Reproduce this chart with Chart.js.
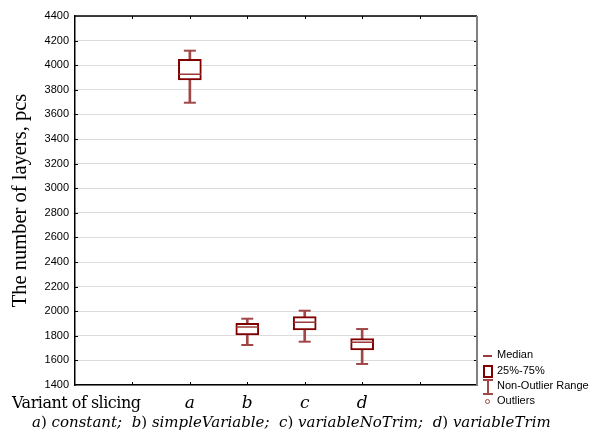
<!DOCTYPE html>
<html>
<head>
<meta charset="utf-8">
<script src="https://cdn.jsdelivr.net/npm/chart.js@4/dist/chart.umd.min.js"></script>
<style>
  html, body { margin: 0; padding: 0; background: #fff; }
  #wrap { position: relative; width: 592px; height: 435px; overflow: hidden; }
  #chart { position: absolute; left: 0; top: 0; }
  .txt { position: absolute; white-space: nowrap; color: #000; line-height: 1; }
  .serif { font-family: "DejaVu Serif", "Liberation Serif", serif; }
  .legend { position: absolute; left: 483px; font: 11px "Liberation Sans", Arial, sans-serif; }
  .legend div { position: absolute; white-space: nowrap; left: 14px; }
  .icon { position: absolute; }
</style>
</head>
<body>
<div id="wrap">
  <canvas id="chart" width="592" height="435"></canvas>
  <div class="txt serif" style="left:12px; top:395px; font-size:16px; letter-spacing:-0.5px;">Variant of slicing</div>
  <div class="txt serif" style="left:32px; top:415px; font-size:15px; letter-spacing:0px;"><i>a</i>) <i>constant;</i>&nbsp; <i>b</i>) <i>simpleVariable;</i>&nbsp; <i>c</i>) <i>variableNoTrim;</i>&nbsp; <i>d</i>) <i>variableTrim</i></div>
  <div class="legend" style="top:348px;">
    <span class="icon" style="left:0; top:7px; width:9px; height:1.5px; background:#9a3a3a;"></span>
    <div style="top:0;">Median</div>
    <span class="icon" style="left:0; top:17px; width:6px; height:9px; border:2px solid #800000;"></span>
    <div style="top:16px;">25%-75%</div>
    <span class="icon" style="left:0; top:31px; width:10px; height:1.5px; background:#a04848;"></span>
    <span class="icon" style="left:4px; top:31px; width:1.5px; height:15px; background:#a04848;"></span>
    <span class="icon" style="left:0; top:45px; width:10px; height:1.5px; background:#a04848;"></span>
    <div style="top:31px;">Non-Outlier Range</div>
    <span class="icon" style="left:2px; top:51px; width:3px; height:3px; border:1px solid #a04848; border-radius:50%;"></span>
    <div style="top:46px;">Outliers</div>
  </div>
</div>
<script>
// ---- data ----
const categories = ['a', 'b', 'c', 'd'];
const whiskerLow = [3695, 1725, 1752, 1571];
const q1 = [3880, 1807, 1847, 1685];
const median = [3926, 1872, 1910, 1747];
const q3 = [4048, 1902, 1956, 1777];
const whiskerHigh = [4118, 1939, 2004, 1855];
const yMin = 1400, yMax = 4400, yStep = 200;

// two empty slots each side of the categories
const axisLabels = ['', '', ...categories, '', ''];
const pad = arr => [null, null, ...arr, null, null];

const boxColor = '#800000';
const whiskerColor = '#a04848';

// frame: top/right borders and the small inward tick marks
const framePlugin = {
  id: 'frame',
  afterDraw(chart) {
    const { ctx, chartArea: a, scales } = chart;
    ctx.save();
    ctx.lineWidth = 1;
    ctx.strokeStyle = '#000';
    for (let i = 1; i < axisLabels.length - 1; i++) {
      const x = Math.round(scales.x.getPixelForValue(i)) + 0.5;
      ctx.beginPath();
      ctx.moveTo(x, a.bottom); ctx.lineTo(x, a.bottom - 3);
      ctx.moveTo(x, a.top); ctx.lineTo(x, a.top + 3);
      ctx.stroke();
    }
    for (let v = yMin + yStep; v < yMax; v += yStep) {
      const y = Math.round(scales.y.getPixelForValue(v)) + 0.5;
      ctx.beginPath();
      ctx.moveTo(a.left, y); ctx.lineTo(a.left + 3, y);
      ctx.moveTo(a.right, y); ctx.lineTo(a.right - 3, y);
      ctx.stroke();
    }
    ctx.lineWidth = 1.5;
    ctx.beginPath();
    ctx.moveTo(a.left, a.top); ctx.lineTo(a.right, a.top);
    ctx.stroke();
    ctx.strokeStyle = '#808080';
    ctx.lineWidth = 2;
    ctx.beginPath();
    ctx.moveTo(a.right, a.top); ctx.lineTo(a.right, a.bottom);
    ctx.stroke();
    ctx.restore();
  }
};

new Chart(document.getElementById('chart'), {
  type: 'bar',
  data: {
    labels: axisLabels,
    datasets: [
      {
        type: 'line', data: pad(median), showLine: false,
        pointStyle: 'line', pointRadius: 11, borderColor: '#9a3a3a', borderWidth: 1.5,
        order: 0
      },
      {
        data: pad(q1.map((v, i) => [v, q3[i]])),
        backgroundColor: '#fff', borderColor: boxColor, borderWidth: 2,
        borderSkipped: false, barThickness: 23, grouped: false, order: 1
      },
      {
        data: pad(whiskerLow.map((v, i) => [v, whiskerHigh[i]])),
        backgroundColor: whiskerColor, borderWidth: 0,
        barThickness: 2, grouped: false, order: 2
      },
      {
        type: 'line', data: pad(whiskerLow), showLine: false,
        pointStyle: 'line', pointRadius: 6, borderColor: whiskerColor, borderWidth: 2,
        order: 2
      },
      {
        type: 'line', data: pad(whiskerHigh), showLine: false,
        pointStyle: 'line', pointRadius: 6, borderColor: whiskerColor, borderWidth: 2,
        order: 2
      }
    ]
  },
  options: {
    responsive: false,
    animation: false,
    devicePixelRatio: 1,
    layout: { padding: { top: 16, right: 115, left: 0, bottom: 0 } },
    plugins: { legend: { display: false }, tooltip: { enabled: false } },
    scales: {
      x: {
        offset: false,
        grid: { display: false },
        border: { color: '#000', width: 1.5 },
        ticks: {
          autoSkip: false, maxRotation: 0, padding: 2, color: '#000',
          font: { family: 'DejaVu Serif', size: 17, style: 'italic', lineHeight: 1 }
        },
        afterFit(scale) { scale.height = 50; }
      },
      y: {
        min: yMin, max: yMax,
        grid: { color: '#dcdcdc', lineWidth: 1, drawTicks: false },
        border: { color: '#000', width: 1.5 },
        ticks: {
          stepSize: yStep, padding: 6, color: '#000',
          font: { family: 'Liberation Sans', size: 11 },
          callback: v => String(v)
        },
        title: {
          display: true, text: 'The number of layers, pcs', color: '#000',
          font: { family: 'Liberation Serif', size: 20.5, lineHeight: 1 },
          padding: { top: 10, bottom: 0 }
        },
        afterFit(scale) { scale.width = 75; }
      }
    }
  },
  plugins: [framePlugin]
});
</script>
</body>
</html>
